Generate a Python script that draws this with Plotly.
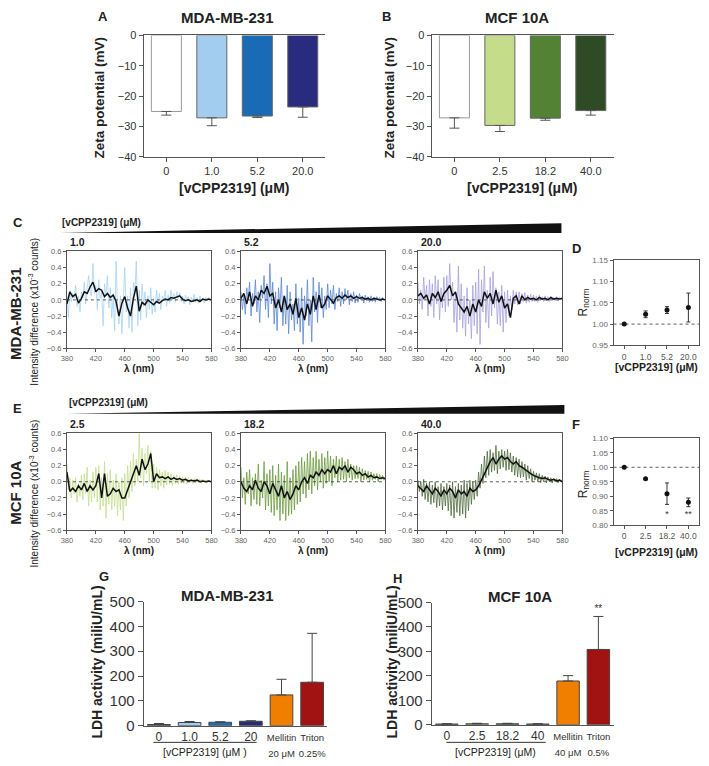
import numpy as np
import plotly.graph_objects as go

W, H = 709, 766
FONT = "Arial, Liberation Sans, sans-serif"

# ---------------- data ----------------
zeta_mda_conc = ["0", "1.0", "5.2", "20.0"]
zeta_mda_mean = [-25.1, -27.2, -26.6, -23.6]
zeta_mda_err = [1.2, 2.6, 0.5, 3.4]
zeta_mda_colors = ["#FFFFFF", "#A2CDEF", "#1A6BB6", "#282B7E"]

zeta_mcf_conc = ["0", "2.5", "18.2", "40.0"]
zeta_mcf_mean = [-27.2, -29.7, -27.3, -24.8]
zeta_mcf_err = [3.4, 2.0, 0.7, 1.5]
zeta_mcf_colors = ["#FFFFFF", "#C5DC8A", "#548235", "#2E4B26"]

# spectra: raw trace every 2 nm, smoothed trace every 4 nm (380-580 nm)
c1_raw = [0.05, -0.22, 0.12, -0.02, 0.08, 0.02, 0.18, -0.08, 0.05, -0.15,
          0.10, 0.02, 0.22, -0.05, 0.15, 0.30, 0.12, 0.05, 0.45, 0.08,
          0.18, -0.12, 0.25, 0.02, 0.10, -0.32, 0.20, 0.05, 0.30, -0.10,
          0.15, -0.22, 0.05, -0.38, 0.48, -0.10, -0.30, 0.05, -0.42, 0.10,
          0.40, -0.15, 0.05, -0.35, 0.15, -0.40, 0.22, 0.10, 0.48, -0.32,
          0.12, -0.25, 0.20, -0.08, 0.10, -0.22, 0.05, -0.12, 0.15, -0.18,
          0.02, -0.15, 0.12, -0.05, 0.08, -0.12, 0.05, 0.00, 0.12, -0.08,
          0.06, -0.04, 0.12, 0.00, 0.08, -0.03, 0.10, 0.02, 0.09, -0.02,
          0.05, -0.05, 0.06, 0.00, 0.04, -0.06, 0.03, -0.02, 0.07, -0.03,
          0.03, -0.04, 0.05, 0.00, 0.02, -0.04, 0.03, -0.01, 0.03, -0.02,
          0.01]
c1_smooth = [-0.05, 0.10, 0.04, 0.07, -0.04, 0.02, 0.10, 0.08, 0.16, 0.22,
             0.10, 0.14, 0.12, 0.04, 0.08, 0.03, 0.06, -0.02, -0.20, -0.04,
             0.04, -0.10, -0.20, 0.02, 0.17, -0.14, -0.03, -0.06, 0.00, -0.03,
             -0.06, -0.02, -0.04, -0.01, 0.01, 0.00, 0.03, 0.02, 0.04, 0.05,
             0.01, -0.01, 0.00, -0.02, -0.01, 0.00, -0.02, 0.01, 0.00, 0.01,
             0.00]

c2_raw = [0.10, -0.12, 0.05, -0.18, 0.15, 0.00, 0.22, -0.20, 0.08, -0.05,
          0.25, -0.15, 0.10, -0.28, 0.18, 0.02, 0.30, -0.12, 0.20, -0.22,
          0.45, -0.05, 0.22, -0.30, 0.10, -0.38, 0.15, -0.10, 0.28, -0.32,
          0.05, -0.30, 0.18, -0.42, 0.10, -0.25, -0.05, -0.38, 0.20, -0.30,
          0.02, -0.40, 0.15, -0.55, 0.05, -0.20, 0.25, -0.32, 0.00, -0.52,
          0.28, -0.15, 0.10, -0.28, 0.22, -0.10, 0.15, -0.22, 0.05, -0.12,
          0.20, -0.10, 0.12, -0.05, 0.18, -0.12, 0.08, -0.02, 0.15, -0.08,
          0.10, -0.05, 0.14, 0.00, 0.12, -0.06, 0.08, -0.02, 0.10, -0.04,
          0.06, -0.03, 0.08, 0.00, 0.05, -0.04, 0.06, -0.01, 0.04, -0.03,
          0.05, -0.02, 0.03, -0.03, 0.04, 0.00, 0.03, -0.02, 0.03, -0.01,
          0.01]
c2_smooth = [0.02, 0.08, -0.05, 0.10, -0.08, 0.05, 0.00, 0.12, 0.08, 0.17,
             0.05, 0.08, -0.10, 0.00, -0.15, 0.05, -0.12, -0.05, -0.18, 0.02,
             -0.22, -0.10, -0.25, -0.05, -0.18, 0.05, -0.12, 0.06, -0.10, -0.05,
             0.05, 0.00, -0.04, 0.03, 0.05, 0.02, 0.06, 0.03, 0.05, 0.02,
             0.04, 0.02, 0.03, 0.01, 0.02, 0.00, 0.02, 0.01, 0.00, 0.01,
             0.00]

c3_raw = [0.22, -0.05, 0.12, -0.12, 0.28, 0.00, 0.18, -0.20, 0.25, -0.08,
          0.20, -0.22, 0.30, -0.05, 0.25, -0.25, 0.15, -0.10, 0.28, -0.15,
          0.30, -0.08, 0.45, 0.00, 0.22, -0.28, 0.10, -0.40, 0.42, -0.25,
          0.20, -0.35, 0.05, -0.45, 0.15, -0.30, 0.00, -0.48, 0.18, -0.32,
          0.22, -0.42, 0.38, -0.55, 0.25, -0.15, 0.42, -0.28, 0.12, -0.35,
          0.28, -0.20, 0.35, -0.10, 0.15, -0.30, 0.10, -0.32, 0.18, -0.40,
          0.10, -0.28, 0.12, -0.20, 0.05, -0.12, 0.12, -0.05, 0.10, -0.06,
          0.10, -0.05, 0.08, -0.02, 0.09, -0.04, 0.06, -0.03, 0.07, -0.02,
          0.06, -0.02, 0.05, -0.03, 0.06, 0.00, 0.04, -0.02, 0.05, -0.01,
          0.04, -0.02, 0.04, 0.00, 0.03, -0.01, 0.04, -0.01, 0.03, 0.00,
          0.02]
c3_smooth = [0.05, 0.08, 0.02, 0.06, -0.05, 0.08, 0.03, 0.10, -0.02, 0.08,
             0.12, 0.18, 0.05, 0.10, -0.05, -0.10, -0.15, -0.08, -0.20, -0.05,
             -0.15, 0.00, -0.08, 0.10, 0.02, 0.08, -0.05, 0.12, -0.03, 0.05,
             -0.10, -0.05, -0.22, 0.02, 0.05, -0.05, 0.05, 0.00, 0.03, 0.01,
             0.02, 0.00, 0.03, 0.01, 0.02, 0.00, 0.03, 0.01, 0.02, 0.01,
             0.02]

e1_raw = [0.22, -0.10, 0.05, -0.20, 0.02, -0.15, 0.05, -0.25, -0.02, -0.18,
          0.08, -0.22, 0.10, -0.15, 0.18, -0.30, 0.02, -0.25, 0.12, -0.20,
          0.18, -0.25, 0.20, -0.35, 0.05, -0.30, 0.25, -0.45, 0.10, -0.28,
          0.15, -0.35, 0.02, -0.30, 0.10, -0.42, 0.00, -0.35, 0.05, -0.48,
          0.10, -0.30, 0.20, -0.20, 0.25, -0.12, 0.35, -0.05, 0.28, 0.00,
          0.60, 0.05, 0.42, -0.05, 0.35, 0.10, 0.45, 0.00, 0.38, -0.08,
          0.22, -0.08, 0.18, -0.10, 0.15, -0.05, 0.12, -0.08, 0.14, -0.04,
          0.12, -0.03, 0.10, -0.05, 0.08, -0.02, 0.09, -0.03, 0.07, -0.02,
          0.06, -0.02, 0.06, -0.03, 0.05, -0.01, 0.04, -0.02, 0.04, -0.01,
          0.04, -0.01, 0.03, -0.02, 0.03, 0.00, 0.02, -0.01, 0.02, 0.00,
          0.01]
e1_smooth = [0.12, -0.12, -0.08, -0.12, -0.05, -0.10, -0.02, -0.12, -0.05, -0.10,
             -0.05, 0.10, -0.20, 0.10, -0.18, -0.15, -0.08, -0.12, -0.10, -0.20,
             -0.20, -0.10, 0.00, 0.10, 0.20, 0.08, 0.28, 0.15, 0.22, 0.35,
             0.00, 0.10, 0.05, 0.06, 0.04, 0.06, 0.03, 0.05, 0.03, 0.04,
             0.02, 0.03, 0.01, 0.02, 0.01, 0.02, 0.00, 0.01, 0.00, 0.01,
             0.00]

e2_raw = [0.18, -0.20, 0.05, -0.28, 0.12, -0.15, 0.15, -0.30, 0.05, -0.22,
          0.10, -0.28, 0.22, -0.30, 0.02, -0.20, 0.25, -0.35, 0.10, -0.30,
          0.15, -0.38, 0.20, -0.42, 0.08, -0.35, 0.22, -0.48, 0.12, -0.40,
          0.08, -0.48, 0.25, -0.42, 0.05, -0.40, 0.15, -0.35, 0.20, -0.28,
          0.25, -0.25, 0.30, -0.15, 0.25, -0.20, 0.35, -0.10, 0.38, -0.15,
          0.30, -0.05, 0.38, -0.10, 0.28, 0.00, 0.35, -0.08, 0.30, -0.02,
          0.38, 0.00, 0.32, -0.05, 0.28, 0.05, 0.32, 0.00, 0.28, 0.02,
          0.30, 0.03, 0.25, 0.00, 0.28, 0.05, 0.22, 0.02, 0.20, 0.04,
          0.20, 0.04, 0.18, 0.00, 0.16, 0.02, 0.14, 0.03, 0.13, 0.00,
          0.12, 0.02, 0.10, 0.03, 0.10, 0.00, 0.09, 0.03, 0.08, 0.02,
          0.05]
e2_smooth = [0.00, -0.08, -0.12, -0.05, -0.10, 0.02, -0.08, -0.12, 0.00, -0.05,
             -0.15, -0.02, -0.10, -0.18, -0.05, -0.20, -0.12, -0.22, -0.15, -0.05,
             -0.10, 0.00, 0.05, -0.02, 0.08, 0.05, 0.12, 0.08, 0.15, 0.10,
             0.15, 0.12, 0.20, 0.10, 0.18, 0.15, 0.20, 0.12, 0.18, 0.15,
             0.10, 0.12, 0.08, 0.10, 0.06, 0.08, 0.05, 0.06, 0.04, 0.05,
             0.04]

e3_raw = [0.02, -0.12, 0.00, -0.18, 0.03, -0.22, -0.02, -0.25, 0.00, -0.28,
          -0.04, -0.26, 0.00, -0.32, -0.06, -0.30, -0.02, -0.35, -0.06, -0.30,
          -0.02, -0.36, -0.04, -0.42, 0.00, -0.45, -0.06, -0.38, -0.02, -0.42,
          -0.04, -0.40, 0.02, -0.45, -0.02, -0.36, 0.02, -0.28, 0.00, -0.22,
          0.02, -0.18, 0.12, -0.08, 0.22, -0.02, 0.32, 0.05, 0.38, 0.08,
          0.40, 0.12, 0.36, 0.14, 0.45, 0.10, 0.38, 0.16, 0.40, 0.18,
          0.38, 0.14, 0.40, 0.15, 0.36, 0.12, 0.32, 0.08, 0.30, 0.06,
          0.28, 0.05, 0.25, 0.06, 0.22, 0.02, 0.20, 0.04, 0.16, 0.00,
          0.13, 0.02, 0.11, 0.00, 0.10, -0.01, 0.08, 0.00, 0.07, -0.01,
          0.06, 0.00, 0.05, -0.01, 0.04, 0.00, 0.04, -0.01, 0.03, 0.00,
          0.01]
e3_smooth = [-0.05, -0.08, -0.12, -0.05, -0.10, -0.15, -0.08, -0.12, -0.18, -0.10,
             -0.15, -0.08, -0.12, -0.20, -0.10, -0.15, -0.12, -0.18, -0.08, -0.12,
             -0.10, -0.05, 0.02, 0.10, 0.18, 0.25, 0.30, 0.22, 0.28, 0.32,
             0.28, 0.30, 0.25, 0.22, 0.25, 0.20, 0.18, 0.15, 0.12, 0.10,
             0.08, 0.06, 0.05, 0.04, 0.05, 0.03, 0.02, 0.03, 0.01, 0.02,
             0.00]

spec_labels_mda = ["1.0", "5.2", "20.0"]
spec_labels_mcf = ["2.5", "18.2", "40.0"]
spec_colors_mda = ["#A6D3F3", "#5B86D3", "#A7A1DC"]
spec_colors_mcf = ["#C6DE8E", "#6C9A3D", "#4F6C3D"]

rnorm_mda_conc = ["0", "1.0", "5.2", "20.0"]
rnorm_mda = [1.000, 1.023, 1.033, 1.039]
rnorm_mda_err = [0.0, 0.008, 0.008, 0.034]
rnorm_mcf_conc = ["0", "2.5", "18.2", "40.0"]
rnorm_mcf = [1.000, 0.960, 0.909, 0.879]
rnorm_mcf_err = [0.0, 0.0, 0.037, 0.015]
rnorm_sig_conc = ["18.2", "40.0"]
rnorm_sig = ["*", "**"]

ldh_mda_cat = ["0", "1.0", "5.2", "20", "Mellitin 20", "Triton 0.25"]
ldh_mda_ticks = ["0", "1.0", "5.2", "20",
                 "<span style='font-size:9.5px'>Mellitin<br>20 μM</span>",
                 "<span style='font-size:9.5px'>Triton<br>0.25%</span>"]
ldh_mda_mean = [5, 13, 14, 18, 124, 175]
ldh_mda_err = [4, 4, 2, 2, 63, 197]
ldh_mda_colors = ["#505050", "#9FCDF0", "#1F6DB8", "#262A7A", "#F07F00", "#A11313"]

ldh_mcf_cat = ["0", "2.5", "18.2", "40", "Mellitin 40", "Triton 0.5"]
ldh_mcf_ticks = ["0", "2.5", "18.2", "40",
                 "<span style='font-size:9.5px'>Mellitin<br>40 μM</span>",
                 "<span style='font-size:9.5px'>Triton<br>0.5%</span>"]
ldh_mcf_mean = [3, 4, 4, 3, 179, 308]
ldh_mcf_err = [1, 2, 2, 1, 22, 135]
ldh_mcf_colors = ["#505050", "#C3DB88", "#5A8A36", "#2F4A26", "#F07F00", "#A11313"]
ldh_sig_cat = ["Triton 0.5"]
ldh_sig = ["**"]

wl_raw = np.arange(380, 581, 2)
wl_smooth = np.arange(380, 581, 4)


# ---------------- helpers ----------------
def dx(x0, x1):
    return [x0 / W, x1 / W]


def dy(y0, y1):
    return [1 - y1 / H, 1 - y0 / H]


def ann(text, x, y, size, bold=False, angle=0, xanchor="center", yanchor="middle", color="#222"):
    return dict(text=f"<b>{text}</b>" if bold else text, x=x / W, y=1 - y / H,
                xref="paper", yref="paper", showarrow=False, textangle=angle,
                xanchor=xanchor, yanchor=yanchor,
                font=dict(size=size, color=color, family=FONT))


fig = go.Figure()
layout = dict(width=W, height=H, margin=dict(l=0, r=0, t=0, b=0),
              paper_bgcolor="white", plot_bgcolor="white", showlegend=False,
              font=dict(family=FONT, color="#222"))
annotations = []
shapes = []

AX = "#555555"

# ---------- A / B zeta potential ----------
zeta_panels = [
    (1, dx(140, 325), zeta_mda_conc, zeta_mda_mean, zeta_mda_err, zeta_mda_colors),
    (2, dx(433, 618), zeta_mcf_conc, zeta_mcf_mean, zeta_mcf_err, zeta_mcf_colors),
]
for n, xd, cats, mean, err, cols in zeta_panels:
    fig.add_trace(go.Bar(
        x=cats, y=mean, width=0.66, xaxis=f"x{n}", yaxis=f"y{n}",
        marker=dict(color=cols, line=dict(color=["#999"] + ["#666"] * 3, width=1)),
        error_y=dict(type="data", symmetric=False, array=[0] * 4, arrayminus=err,
                     color="#555", thickness=1, width=5)))
    layout[f"xaxis{n}"] = dict(domain=xd, anchor=f"y{n}", type="category",
                               showline=True, linecolor=AX, linewidth=1, mirror=True,
                               ticks="outside", ticklen=4, tickcolor=AX,
                               tickfont=dict(size=11, color="#333"))
    layout[f"yaxis{n}"] = dict(domain=dy(27, 151), anchor=f"x{n}", range=[-40, 0],
                               dtick=10, showline=True, linecolor=AX, ticks="outside",
                               ticklen=4, tickcolor=AX, showgrid=False, zeroline=False,
                               tickfont=dict(size=11, color="#333"))

annotations += [
    ann("A", 99, 8, 13, True), ann("B", 387, 8, 13, True),
    ann("MDA-MB-231", 225, 9, 15, True), ann("MCF 10A", 520, 9, 15, True),
    ann("Zeta potential (mV)", 95, 90, 13.5, True, -90),
    ann("Zeta potential (mV)", 390, 90, 13.5, True, -90),
    ann("[vCPP2319] (μM)", 232, 183, 14, True),
    ann("[vCPP2319] (μM)", 525, 183, 14, True),
]

# ---------- C / E spectra ----------
spec_x = [(62, 209), (239, 386), (419, 566)]
spec_rows = [
    (3, (248, 347), [(c1_raw, c1_smooth), (c2_raw, c2_smooth), (c3_raw, c3_smooth)],
     spec_colors_mda, spec_labels_mda),
    (7, (434, 533), [(e1_raw, e1_smooth), (e2_raw, e2_smooth), (e3_raw, e3_smooth)],
     spec_colors_mcf, spec_labels_mcf),
]
for start, (yt, yb), series, cols, labels in spec_rows:
    for i, ((raw, smooth), col, lab) in enumerate(zip(series, cols, labels)):
        n = start + i
        fig.add_trace(go.Scatter(x=wl_raw, y=raw, mode="lines", xaxis=f"x{n}", yaxis=f"y{n}",
                                 line=dict(color=col, width=0.8)))
        fig.add_trace(go.Scatter(x=wl_smooth, y=smooth, mode="lines", xaxis=f"x{n}", yaxis=f"y{n}",
                                 line=dict(color="#111", width=1.5)))
        x0, x1 = spec_x[i]
        layout[f"xaxis{n}"] = dict(domain=dx(x0, x1), anchor=f"y{n}", range=[380, 580],
                                   tickvals=list(range(380, 581, 40)), showline=True,
                                   linecolor=AX, mirror=True, ticks="outside", ticklen=3,
                                   tickcolor=AX, showgrid=False, zeroline=False,
                                   tickfont=dict(size=7.5, color="#666"))
        layout[f"yaxis{n}"] = dict(domain=dy(yt, yb), anchor=f"x{n}", range=[-0.6, 0.6],
                                   tickvals=[-0.6, -0.4, -0.2, 0, 0.2, 0.4, 0.6],
                                   tickformat=".1f", showline=True, linecolor=AX,
                                   mirror=True, ticks="outside", ticklen=3, tickcolor=AX,
                                   showgrid=False, zeroline=False,
                                   tickfont=dict(size=7.5, color="#666"))
        shapes.append(dict(type="line", xref=f"x{n} domain", yref=f"y{n}", x0=0, x1=1,
                           y0=0, y1=0, line=dict(color="#333", width=0.8, dash="dot")))
        annotations.append(ann(lab, x0 + 1, yt - 10, 10.5, True, xanchor="left"))
        annotations.append(ann("λ (nm)", (x0 + x1) / 2, yb + 21, 10, True))

annotations += [
    ann("C", 12, 218, 13, True), ann("E", 12, 409, 13, True),
    ann("[vCPP2319] (μM)", 55, 218, 10, True, xanchor="left"),
    ann("[vCPP2319] (μM)", 62, 402, 10, True, xanchor="left"),
    ann("MDA-MB-231", 9, 311, 15, True, -90),
    ann("MCF 10A", 9, 495, 15, True, -90),
    ann("Intensity difference (x10<sup>-3</sup> counts)", 28, 310, 10, False, -90),
    ann("Intensity difference (x10<sup>-3</sup> counts)", 28, 496, 10, False, -90),
]
for (lx, ly, rx, rt, rb) in [(55, 229, 565, 219, 229), (62, 414, 568, 405, 414)]:
    path = (f"M {lx / W},{1 - ly / H} L {rx / W},{1 - rt / H} "
            f"L {rx / W},{1 - rb / H} Z")
    shapes.append(dict(type="path", xref="paper", yref="paper", path=path,
                       fillcolor="#111", line=dict(width=0)))

# ---------- D / F normalised ratio ----------
r_panels = [
    (6, dy(257, 344), rnorm_mda_conc, rnorm_mda, rnorm_mda_err, [0.95, 1.15], 300),
    (10, dy(439, 528), rnorm_mcf_conc, rnorm_mcf, rnorm_mcf_err, [0.80, 1.10], 486),
]
for n, yd, cats, vals, err, yr, ttl_y in r_panels:
    fig.add_trace(go.Scatter(x=cats, y=vals, mode="markers", xaxis=f"x{n}", yaxis=f"y{n}",
                             marker=dict(color="#111", size=5),
                             error_y=dict(type="data", array=err, color="#333",
                                          thickness=1, width=2)))
    layout[f"xaxis{n}"] = dict(domain=dx(618, 705), anchor=f"y{n}", type="category",
                               range=[-0.5, 3.5], showline=True, linecolor=AX, mirror=True,
                               ticks="outside", ticklen=3, tickcolor=AX,
                               tickfont=dict(size=8.5, color="#555"))
    layout[f"yaxis{n}"] = dict(domain=yd, anchor=f"x{n}", range=yr, dtick=0.05,
                               tickformat=".2f", showline=True, linecolor=AX, mirror=True,
                               ticks="outside", ticklen=3, tickcolor=AX, showgrid=False,
                               zeroline=False, tickfont=dict(size=8, color="#666"))
    shapes.append(dict(type="line", xref=f"x{n} domain", yref=f"y{n}", x0=0, x1=1,
                       y0=1, y1=1, line=dict(color="#333", width=0.8, dash="dot")))
    annotations.append(ann("R<sub>norm</sub>", 588, ttl_y, 12, False, -90))

fig.add_trace(go.Scatter(x=rnorm_sig_conc, y=[0.835] * len(rnorm_sig), text=rnorm_sig,
                         mode="text", xaxis="x10", yaxis="y10",
                         textfont=dict(size=9, color="#333")))
annotations += [
    ann("D", 580, 245, 13, True), ann("F", 580, 425, 13, True),
    ann("[vCPP2319] (μM)", 662, 366, 10.5, True),
    ann("[vCPP2319] (μM)", 662, 555, 10.5, True),
]

# ---------- G / H LDH ----------
ldh_panels = [
    (11, dx(140, 327), dy(606, 733), ldh_mda_cat, ldh_mda_ticks, ldh_mda_mean, ldh_mda_err,
     ldh_mda_colors),
    (12, dx(433, 618), dy(607, 732), ldh_mcf_cat, ldh_mcf_ticks, ldh_mcf_mean, ldh_mcf_err,
     ldh_mcf_colors),
]
for n, xd, yd, cats, ticks, mean, err, cols in ldh_panels:
    fig.add_trace(go.Bar(
        x=cats, y=mean, width=0.74, xaxis=f"x{n}", yaxis=f"y{n}",
        marker=dict(color=cols, line=dict(color="#444", width=1)),
        error_y=dict(type="data", symmetric=False, array=err, arrayminus=[0] * 6,
                     color="#444", thickness=1, width=5)))
    layout[f"xaxis{n}"] = dict(domain=xd, anchor=f"y{n}", type="category",
                               tickvals=cats, ticktext=ticks, showline=True, linecolor=AX,
                               ticks="", tickfont=dict(size=12, color="#333"))
    layout[f"yaxis{n}"] = dict(domain=yd, anchor=f"x{n}", range=[0, 500], dtick=100,
                               showline=True, linecolor=AX, ticks="outside", ticklen=5,
                               tickcolor=AX, showgrid=False, zeroline=False,
                               tickfont=dict(size=15, color="#333"))

sig_y = [ldh_mcf_mean[5] + ldh_mcf_err[5] + 28]
fig.add_trace(go.Scatter(x=ldh_sig_cat, y=sig_y, text=ldh_sig, mode="text",
                         xaxis="x12", yaxis="y12", textfont=dict(size=10, color="#333")))

annotations += [
    ann("G", 100, 580, 13, True), ann("H", 398, 582, 13, True),
    ann("MDA-MB-231", 225, 600, 15, True), ann("MCF 10A", 523, 601, 15, True),
    ann("LDH activity (miliU/mL)", 93, 668, 14, True, -90),
    ann("LDH activity (miliU/mL)", 393, 668, 14, True, -90),
    ann("[vCPP2319] (μM )", 202, 760, 10.5),
    ann("[vCPP2319] (μM)", 498, 760, 10.5),
]
for (x0, x1, y) in [(150, 255, 750), (448, 549, 750)]:
    shapes.append(dict(type="line", xref="paper", yref="paper", x0=x0 / W, x1=x1 / W,
                       y0=1 - y / H, y1=1 - y / H, line=dict(color="#333", width=1)))

layout["annotations"] = annotations
layout["shapes"] = shapes
fig.update_layout(**layout)

fig.write_html("out.html", config={"displayModeBar": False},
               post_script="document.body.style.margin='0px';")
